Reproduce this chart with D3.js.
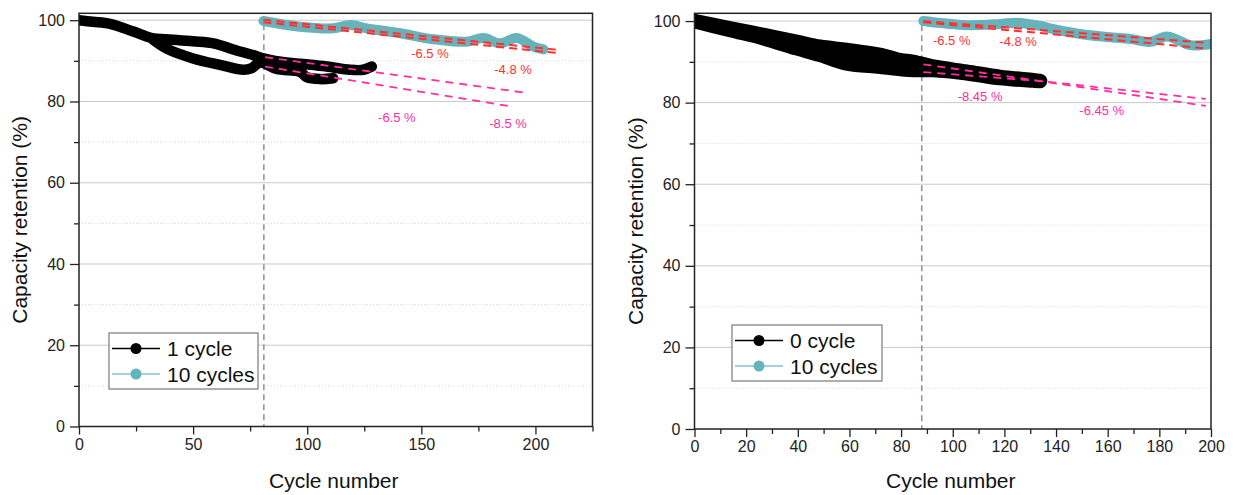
<!DOCTYPE html>
<html><head><meta charset="utf-8">
<script src="https://cdn.jsdelivr.net/npm/d3@7"></script>
<style>
body{margin:0;background:#fff}
svg{display:block}
text{font-family:"Liberation Sans",Arial,Helvetica,sans-serif}
</style>
</head><body>
<svg id="chart" width="1236" height="495"></svg>
<script>
// ---------------- data ----------------
const yMajorTicks = [0, 20, 40, 60, 80, 100];
const yMinorTicks = [10, 30, 50, 70, 90];
const leftXMajor = [0, 50, 100, 150, 200];
const leftXMinor = [25, 75, 125, 175, 225];
const rightXMajor = [0, 20, 40, 60, 80, 100, 120, 140, 160, 180, 200];
const rightXMinor = [10, 30, 50, 70, 90, 110, 130, 150, 170, 190];

// Left panel: "1 cycle" (null = gap between passes)
const left1Cycle = [
  [0,100],[6,99.6],[13.6,99.1],[23.8,97.2],[32,95.6],[38.4,95.3],[50,94.8],[58.9,94.3],
  [67.6,92.8],[76.4,91.4],[80.8,90.6],[86.6,89.9],[96.8,89.3],[108.5,88.6],[118.8,87.8],
  [124.6,87.8],[128.3,88.6],
  null,
  [32,95.4],[38.4,93],[50,90.6],[61.8,89],[72,87.8],[75.7,88.2],[79.3,89.6],
  [86.6,88],[96.8,87.3],[99.8,86],[105.6,85.5],[111.4,85.7]
];
// Left panel: "10 cycles"
const left10Cycles = [
  [80.8,99.8],[96.9,98.4],[111.4,98.0],[118.8,98.8],[126.1,98.0],[140.7,96.8],[155.3,95.3],
  [169.9,94.7],[177.2,95.6],[184.5,94.3],[191.8,95.6],[199.1,93.5],[203.5,92.8]
];
const leftRedFits = [
  [[80.8,100.1],[210,92.7]],
  [[80.8,99.5],[210,91.9]]
];
const leftPinkFits = [
  [[81.5,90.9],[195,82.2]],
  [[81.5,88.6],[190.3,78.7]]
];
const leftRedLabels = [{t:"-6.5 %", x:153.8, y:91.9}, {t:"-4.8 %", x:190.2, y:87.8}];
const leftPinkLabels = [{t:"-6.5 %", x:139.3, y:76.0}, {t:"-8.5 %", x:188, y:74.5}];
const leftVLine = 81;

// Right panel: "0 cycle"
const right0Cycle = [
  [0,100],[13.7,98.2],[26.6,96.6],[39.6,94.9],[48.6,93.7],[58.9,92.9],[71.8,91.7],
  [79.6,90.4],[84.7,90],[92.5,88.8],[105.4,87.6],[118.3,86.3],[131.2,85.5],[133.8,85.3],
  null,
  [0,100],[13.7,97.8],[26.6,95.8],[39.6,93.3],[48.6,91.7],[58.9,89.6],[71.8,88.8],
  [84.7,88],[92.5,88],[105.4,87.2],[118.3,86],[131.2,85.4],[133.8,85.3]
];
// Right panel: "10 cycles"
const right10Cycles = [
  [88.6,100],[105.4,99],[118.3,99.3],[124.8,99.6],[133.8,98.8],[137.7,98.2],[150.6,96.7],
  [163.5,95.9],[169.9,95.5],[176.4,94.9],[182.8,96.2],[186.7,95.5],[191.9,94.1],[200,94.4]
];
const rightRedFits = [
  [[88.6,100],[198,94.7]],
  [[88.6,99.7],[198,93.3]]
];
const rightPinkFits = [
  [[88.6,89.4],[133.8,85.3],[198,80.9]],
  [[88.6,87.5],[133.8,85.3],[198,79.2]]
];
const rightRedLabels = [{t:"-6.5 %", x:99.6, y:95.3}, {t:"-4.8 %", x:125.3, y:94.9}];
const rightPinkLabels = [{t:"-8.45 %", x:110.6, y:81.4}, {t:"-6.45 %", x:157.7, y:78.2}];
const rightVLine = 88;

const legendLeft = ["1 cycle", "10 cycles"];
const legendRight = ["0 cycle", "10 cycles"];

// ---------------- styles ----------------
const BLACK = "#000";
const TEAL = "#67b3bb";
const TEAL_LEG = "#7cc6c9";
const RED = "#ff3030";
const PINK = "#ff2f9e";
const VCOL = "#a08a8c";
const AXIS = "#222";

const svg = d3.select("#chart");
svg.append("rect").attr("width",1236).attr("height",495).attr("fill","#fff");

function panel(cfg, idx) {
  const x = d3.scaleLinear().domain(cfg.xDomain).range(cfg.xRange);
  const y = d3.scaleLinear().domain(cfg.yDomain).range(cfg.yRange);
  const g = svg.append("g");
  const [x0, x1] = cfg.xRange;
  const [yb, yt] = cfg.yRange;

  const clipId = "clip" + idx;
  svg.append("clipPath").attr("id", clipId).append("rect")
    .attr("x", x0).attr("y", yt).attr("width", x1 - x0).attr("height", yb - yt);

  // grid
  g.selectAll(".gmaj").data(yMajorTicks.filter(d => d > 0)).join("line")
    .attr("x1", x0).attr("x2", x1).attr("y1", d => y(d)).attr("y2", d => y(d))
    .attr("stroke", "#c9c9c9").attr("stroke-width", 1);
  g.selectAll(".gmin").data(yMinorTicks).join("line")
    .attr("x1", x0).attr("x2", x1).attr("y1", d => y(d)).attr("y2", d => y(d))
    .attr("stroke", "#d6d6d6").attr("stroke-width", 1).attr("stroke-dasharray", "1,2");

  const pg = g.append("g").attr("clip-path", `url(#${clipId})`);

  // vertical marker
  pg.append("line")
    .attr("x1", x(cfg.vline)).attr("x2", x(cfg.vline))
    .attr("y1", y(99)).attr("y2", y(0))
    .attr("stroke", VCOL).attr("stroke-width", 1.5).attr("stroke-dasharray", "6,4");

  const smooth = d3.line().defined(d => d !== null).x(d => x(d[0])).y(d => y(d[1]))
    .curve(d3.curveCatmullRom.alpha(0.5));
  const straight = d3.line().x(d => x(d[0])).y(d => y(d[1]));

  pg.append("path").datum(cfg.black).attr("d", smooth)
    .attr("fill", "none").attr("stroke", BLACK).attr("stroke-width", cfg.blackW)
    .attr("stroke-linecap", "round").attr("stroke-linejoin", "round");
  pg.append("path").datum(cfg.teal).attr("d", smooth)
    .attr("fill", "none").attr("stroke", TEAL).attr("stroke-width", 10)
    .attr("stroke-linecap", "round").attr("stroke-linejoin", "round");

  cfg.red.forEach(f => pg.append("path").datum(f).attr("d", straight)
    .attr("fill","none").attr("stroke", RED).attr("stroke-width", 2).attr("stroke-dasharray","8,5"));
  cfg.pink.forEach(f => pg.append("path").datum(f).attr("d", straight)
    .attr("fill","none").attr("stroke", PINK).attr("stroke-width", 1.8).attr("stroke-dasharray","8,6"));

  g.selectAll(".rl").data(cfg.redLabels).join("text")
    .attr("x", d => x(d.x)).attr("y", d => y(d.y)).attr("dy", "0.35em")
    .attr("text-anchor", "middle").attr("font-size", 13).attr("fill", RED).text(d => d.t);
  g.selectAll(".pl").data(cfg.pinkLabels).join("text")
    .attr("x", d => x(d.x)).attr("y", d => y(d.y)).attr("dy", "0.35em")
    .attr("text-anchor", "middle").attr("font-size", 13).attr("fill", PINK).text(d => d.t);

  // axes
  const xa = g.append("g").attr("transform", `translate(0,${yb})`)
    .call(d3.axisBottom(x).tickValues(cfg.xMajor).tickSize(8).tickSizeOuter(0).tickPadding(4));
  const xm = g.append("g").attr("transform", `translate(0,${yb})`)
    .call(d3.axisBottom(x).tickValues(cfg.xMinor).tickSize(5).tickSizeOuter(0).tickFormat(""));
  const ya = g.append("g").attr("transform", `translate(${x0},0)`)
    .call(d3.axisLeft(y).tickValues(yMajorTicks).tickSize(9).tickSizeOuter(0).tickPadding(5));
  const ym = g.append("g").attr("transform", `translate(${x0},0)`)
    .call(d3.axisLeft(y).tickValues(yMinorTicks).tickSize(5).tickSizeOuter(0).tickFormat(""));
  [xa, xm, ya, ym].forEach(a => {
    a.select(".domain").remove();
    a.selectAll("line").attr("stroke", AXIS).attr("stroke-width", 1.3);
    a.selectAll("text").attr("font-size", 16).attr("fill", "#222")
      .style("font-family", '"Liberation Sans",Arial,sans-serif');
  });

  // frame
  g.append("rect").attr("x", x0).attr("y", yt).attr("width", x1 - x0).attr("height", yb - yt)
    .attr("fill", "none").attr("stroke", AXIS).attr("stroke-width", 1.5);

  // axis titles
  g.append("text").attr("x", (x0 + x1) / 2 - 2).attr("y", 488)
    .attr("text-anchor", "middle").attr("font-size", 21).attr("fill", "#111").text("Cycle number");
  g.append("text").attr("transform", `translate(${cfg.yTitleX},${(yb + yt) / 2}) rotate(-90)`)
    .attr("text-anchor", "middle").attr("font-size", 21).attr("fill", "#111").text("Capacity retention (%)");

  // legend
  const L = cfg.legend;
  const lg = g.append("g").attr("transform", `translate(${L.x},${L.y})`);
  lg.append("rect").attr("width", L.w).attr("height", L.h)
    .attr("fill", "#fff").attr("stroke", "#7a7a7a").attr("stroke-width", 1.2);
  const items = [{c: BLACK, lc: BLACK}, {c: TEAL, lc: TEAL_LEG}];
  cfg.legendLabels.forEach((lab, i) => {
    const cy = 15.5 + i * 25.5;
    lg.append("line").attr("x1", 3).attr("x2", 51).attr("y1", cy).attr("y2", cy)
      .attr("stroke", items[i].lc).attr("stroke-width", 1.5);
    lg.append("circle").attr("cx", 27).attr("cy", cy).attr("r", 5.5).attr("fill", items[i].c);
    lg.append("text").attr("x", 58).attr("y", cy).attr("dy", "0.36em")
      .attr("font-size", 21).attr("fill", "#111").text(lab);
  });
}

panel({
  xDomain: [0, 225], xRange: [79, 592.5],
  yDomain: [0, 101.7], yRange: [426.5, 13.3],
  xMajor: leftXMajor, xMinor: leftXMinor,
  black: left1Cycle, blackW: 10.5, teal: left10Cycles,
  red: leftRedFits, pink: leftPinkFits,
  redLabels: leftRedLabels, pinkLabels: leftPinkLabels,
  vline: leftVLine, yTitleX: 27,
  legend: {x: 109, y: 333, w: 149, h: 56}, legendLabels: legendLeft
}, 0);

panel({
  xDomain: [0, 200], xRange: [694.5, 1211],
  yDomain: [0, 101.9], yRange: [429, 13.3],
  xMajor: rightXMajor, xMinor: rightXMinor,
  black: right0Cycle, blackW: 14.5, teal: right10Cycles,
  red: rightRedFits, pink: rightPinkFits,
  redLabels: rightRedLabels, pinkLabels: rightPinkLabels,
  vline: rightVLine, yTitleX: 643,
  legend: {x: 732, y: 325, w: 150, h: 56}, legendLabels: legendRight
}, 1);
</script>
</body></html>
